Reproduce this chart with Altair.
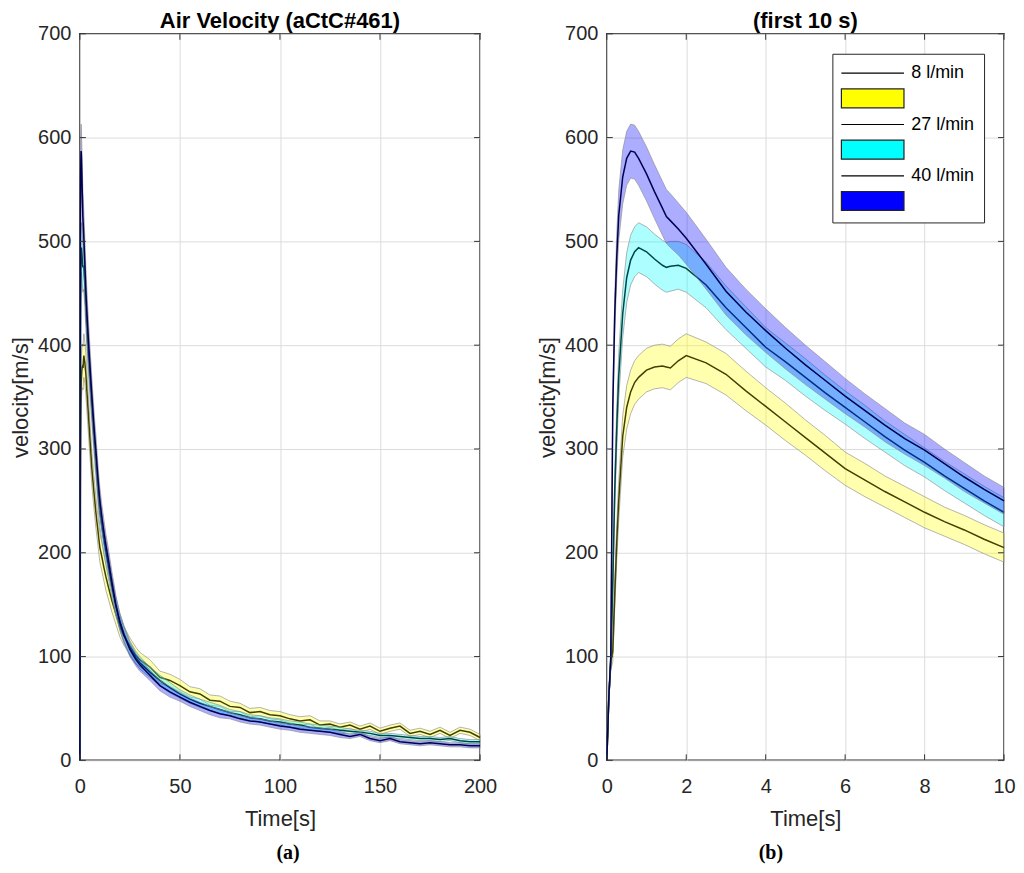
import altair as alt
import pandas as pd

# first 10 s (right panel, also start of left panel)
T_FIRST = [0, 0.05, 0.1, 0.15, 0.2, 0.25, 0.3, 0.4, 0.5, 0.6, 0.7, 0.8, 1.0, 1.2, 1.4, 1.5,
           1.6, 1.8, 2.0, 2.5, 3.0, 3.5, 4.0, 4.5, 5.0, 5.5, 6.0, 6.5, 7.0, 7.5, 8.0, 8.5,
           9.0, 9.5, 10.0]
V8_FIRST = [0, 60, 95, 105, 160, 210, 250, 312, 340, 355, 364, 369, 376, 379, 380, 379,
            378, 385, 390, 383, 372, 356, 341, 326, 311, 296, 281, 270, 259, 249, 239, 230,
            222, 213, 205]
V27_FIRST = [0, 60, 95, 170, 260, 320, 370, 430, 465, 482, 490, 494, 490, 483, 477, 475,
             476, 477, 474, 458, 436, 417, 398, 384, 369, 354, 340, 326, 312, 299, 287, 274,
             262, 250, 239]
V40_FIRST = [0, 60, 100, 340, 430, 485, 525, 562, 580, 587, 586, 580, 565, 548, 532, 524,
             520, 512, 503, 478, 452, 432, 414, 397, 381, 366, 351, 337, 323, 310, 299, 286,
             273, 261, 250]
W8_FIRST = [0, 3, 8, 10, 14, 17, 19, 20, 21, 21, 21, 21, 21, 21, 21, 21,
            21, 21, 21, 20, 20, 19, 18, 18, 17, 17, 16, 16, 15, 15, 15, 14,
            14, 14, 14]
W27_FIRST = [0, 3, 6, 12, 17, 20, 22, 23, 24, 24, 24, 24, 24, 24, 24, 24,
             24, 23, 23, 22, 21, 20, 19, 18, 18, 17, 16, 16, 15, 15, 14, 14,
             14, 14, 14]
W40_FIRST = [0, 3, 6, 12, 18, 22, 24, 26, 26, 26, 26, 26, 26, 26, 26, 26,
             26, 25, 25, 24, 23, 22, 21, 20, 19, 18, 17, 16, 16, 15, 15, 14,
             14, 13, 13]

# 10 s to 200 s (left panel only)
T_LATE = [11, 12, 13, 14, 16, 18, 20, 22, 25, 28,
          30, 35, 40, 45, 50, 55, 60, 65, 70, 75, 80, 85, 90, 95, 100, 105, 110, 115,
          120, 125, 130, 135, 140, 145, 150, 155, 160, 165, 170, 175, 180, 185, 190, 195, 200]
V8_LATE = [196, 186, 177, 169, 154, 141, 129, 120, 110, 101,
           97, 90, 80, 77, 72, 66, 64, 58, 57, 52, 51, 46, 47, 44, 43, 40, 38, 39,
           34, 35, 32, 34, 30, 33, 28, 31, 33, 26, 28, 25, 29, 24, 29, 27, 22]
V27_LATE = [225, 212, 200, 189, 167, 148, 134, 122, 108, 99,
            94, 85, 77, 70, 64, 59, 55, 52, 49, 46, 44, 41, 40, 38, 37, 35, 34, 32,
            31, 30, 29, 28, 27, 26, 24, 24, 23, 22, 21, 21, 20, 21, 19, 18, 18]
V40_LATE = [234, 220, 207, 196, 172, 150, 133, 121, 107, 97,
            92, 82, 72, 66, 61, 56, 52, 48, 45, 43, 40, 38, 37, 35, 33, 32, 30, 29,
            28, 27, 25, 23, 25, 21, 19, 21, 18, 17, 16, 17, 16, 15, 15, 14, 14]
W8_LATE = [14, 13, 13, 12, 11, 10, 10, 9, 8, 8,
           7, 7, 6, 6, 6, 5, 5, 5, 5, 5, 4, 4, 4, 4, 4, 4, 4, 4,
           4, 3, 3, 3, 3, 3, 3, 3, 3, 3, 3, 3, 3, 3, 3, 3, 3]
W27_LATE = [13, 12, 12, 11, 10, 9, 8, 8, 7, 6,
            6, 5, 5, 5, 4, 4, 4, 4, 4, 3, 3, 3, 3, 3, 3, 3, 3, 3,
            3, 3, 3, 2, 2, 2, 2, 2, 2, 2, 2, 2, 2, 2, 2, 2, 2]
W40_LATE = [12, 12, 11, 11, 10, 9, 8, 8, 7, 6,
            6, 5, 5, 5, 4, 4, 4, 4, 4, 3, 3, 3, 3, 3, 3, 3, 3, 3,
            3, 3, 3, 2, 2, 2, 2, 2, 2, 2, 2, 2, 2, 2, 2, 2, 2]

BAND_COLORS = ["#ffff00", "#00ffff", "#0000ff"]
LINE_COLORS = ["#404000", "#004545", "#000050"]
Y_TICKS = [0, 100, 200, 300, 400, 500, 600, 700]

LEGEND_ENTRIES = ["8 l/min", "8 l/min band", "27 l/min", "27 l/min band", "40 l/min", "40 l/min band"]
LINE_PATH = "M-1.1,0H5.5"
RECT_PATH = "M-1.1,-1H5.5V1H-1.1Z"

FONT = "Liberation Sans"
H = 728

INDEP = dict(shape="independent", fill="independent", stroke="independent")


def frame(times, values, widths):
    return pd.DataFrame({
        "t": times,
        "v": values,
        "lo": [v - w for v, w in zip(values, widths)],
        "hi": [v + w for v, w in zip(values, widths)],
    })


def panel(frames, x_max, x_ticks, width, title, legend=False):
    xs = alt.Scale(domain=[0, x_max], nice=False)
    ys = alt.Scale(domain=[0, 700], nice=False)
    x_axis = alt.Axis(values=x_ticks, title="Time[s]")
    y_axis = alt.Axis(values=Y_TICKS, title="velocity[m/s]")
    xenc = alt.X("t:Q", scale=xs, axis=x_axis)

    layers = []
    for df, band, line in zip(frames, BAND_COLORS, LINE_COLORS):
        base = alt.Chart(df)
        layers.append(
            base.mark_area(fill=band, fillOpacity=0.32, stroke="#8a8a8a",
                           strokeWidth=0.8, strokeOpacity=0.8)
            .encode(xenc, alt.Y("lo:Q", scale=ys, axis=y_axis), alt.Y2("hi:Q"))
        )
        layers.append(
            base.mark_line(color=line, strokeWidth=1.5)
            .encode(xenc, alt.Y("v:Q", scale=ys, axis=y_axis))
        )

    # inward ticks on all four sides, like the matlab box
    yt = alt.Chart(pd.DataFrame({"v": Y_TICKS}))
    xt = alt.Chart(pd.DataFrame({"t": x_ticks}))
    yenc = alt.Y("v:Q", scale=ys, axis=y_axis)
    layers += [
        yt.mark_rule(color="#333333").encode(yenc, x=alt.value(0), x2=alt.value(6)),
        yt.mark_rule(color="#333333").encode(yenc, x=alt.value(width - 6), x2=alt.value(width)),
        xt.mark_rule(color="#333333").encode(xenc, y=alt.value(H - 6), y2=alt.value(H)),
        xt.mark_rule(color="#333333").encode(xenc, y=alt.value(0), y2=alt.value(6)),
    ]

    if legend:
        leg = alt.Legend(
            title=None, orient="none", legendX=226, legendY=20,
            symbolSize=361, symbolStrokeWidth=1.2, rowPadding=3.2,
            labelOffset=49, labelFontSize=18, labelFont=FONT, labelColor="#000000",
            labelExpr="indexof(datum.label, 'band') >= 0 ? '' : datum.label",
            padding=9, strokeColor="#262626", fillColor="white",
        )
        layers.append(
            alt.Chart(pd.DataFrame({"entry": LEGEND_ENTRIES}))
            .mark_point(filled=True, opacity=1)
            .encode(
                shape=alt.Shape("entry:N", legend=leg, scale=alt.Scale(
                    domain=LEGEND_ENTRIES,
                    range=[LINE_PATH, RECT_PATH] * 3)),
                fill=alt.Fill("entry:N", legend=leg, scale=alt.Scale(
                    domain=LEGEND_ENTRIES,
                    range=["transparent", "#ffff00", "transparent", "#00ffff", "transparent", "#0000ff"])),
                stroke=alt.Stroke("entry:N", legend=leg, scale=alt.Scale(
                    domain=LEGEND_ENTRIES,
                    range=["#000000", "#222222"] * 3)),
            )
            .transform_filter("false")
        )

    return alt.layer(*layers).properties(
        width=width, height=H,
        title=alt.TitleParams(title, fontSize=22, fontWeight="bold", font=FONT,
                              color="#000000", offset=-9, anchor="middle"),
    )


first = [frame(T_FIRST, V8_FIRST, W8_FIRST),
         frame(T_FIRST, V27_FIRST, W27_FIRST),
         frame(T_FIRST, V40_FIRST, W40_FIRST)]
full = [frame(T_FIRST + T_LATE, V8_FIRST + V8_LATE, W8_FIRST + W8_LATE),
        frame(T_FIRST + T_LATE, V27_FIRST + V27_LATE, W27_FIRST + W27_LATE),
        frame(T_FIRST + T_LATE, V40_FIRST + V40_LATE, W40_FIRST + W40_LATE)]

left = panel(full, 200, [0, 50, 100, 150, 200], 401, "Air Velocity (aCtC#461)")
right = panel(first, 10, [0, 2, 4, 6, 8, 10], 398, "(first 10 s)", legend=True)


def caption(chart, text, dx):
    return alt.vconcat(chart, title=alt.TitleParams(
        text, orient="bottom", anchor="middle", font="Liberation Serif", dx=dx,
        fontSize=20, fontWeight="bold", color="#000000", offset=13),
    ).resolve_scale(**INDEP).resolve_legend(**INDEP)


chart = (
    alt.hconcat(caption(left, "(a)", 35), caption(right, "(b)", -5), spacing=37)
    .resolve_scale(**INDEP)
    .resolve_legend(**INDEP)
    .properties(padding={"left": 0, "top": 0, "right": 0, "bottom": 0})
    .configure_view(stroke="#333333", strokeWidth=1.5)
    .configure_axis(
        labelFont=FONT, labelFontSize=20, labelColor="#262626", labelFlush=False,
        titleFont=FONT, titleFontSize=22, titleFontWeight="normal", titleColor="#262626",
        gridColor="#dcdcdc", gridWidth=1, domain=False, ticks=False,
    )
    .configure_axisX(labelPadding=16.5, titlePadding=12)
    .configure_axisY(labelPadding=9, titlePadding=5)
)

chart.save("out.html", embed_options={"renderer": "svg", "actions": False})
